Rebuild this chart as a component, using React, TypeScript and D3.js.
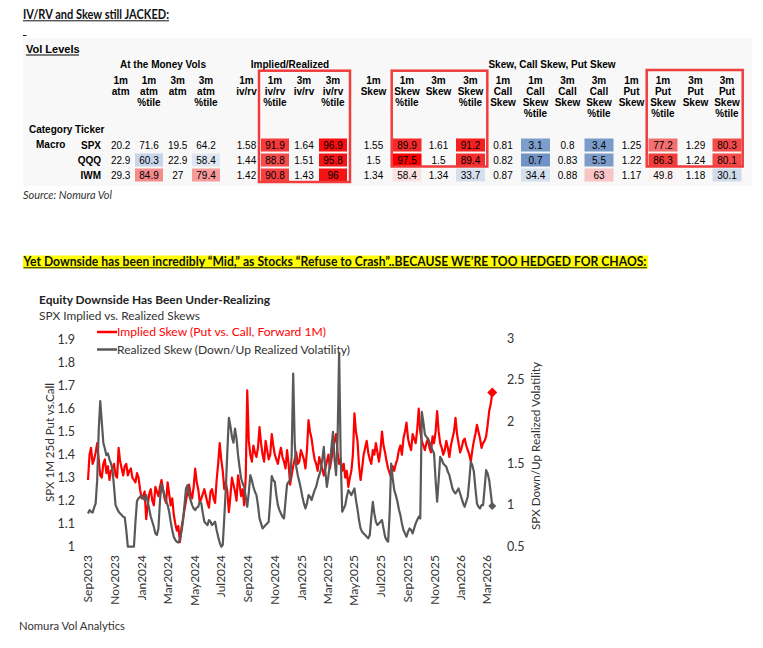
import React from "react";
import * as d3 from "d3";

// ---------------- Table data ----------------
const tickers = ["SPX", "QQQ", "IWM"];
const groupHeaders = ["At the Money Vols", "Implied/Realized", "Skew, Call Skew, Put Skew"];
const columnHeaders = [
  ["1m", "atm"], ["1m", "atm", "%tile"], ["3m", "atm"], ["3m", "atm", "%tile"],
  ["1m", "iv/rv"], ["1m", "iv/rv", "%tile"], ["3m", "iv/rv"], ["3m", "iv/rv", "%tile"],
  ["1m", "Skew"], ["1m", "Skew", "%tile"], ["3m", "Skew"], ["3m", "Skew", "%tile"],
  ["1m", "Call", "Skew"], ["1m", "Call", "Skew", "%tile"], ["3m", "Call", "Skew"], ["3m", "Call", "Skew", "%tile"],
  ["1m", "Put", "Skew"], ["1m", "Put", "Skew", "%tile"], ["3m", "Put", "Skew"], ["3m", "Put", "Skew", "%tile"],
];
const spxValues = [20.2, 71.6, 19.5, 64.2, 1.58, 91.9, 1.64, 96.9, 1.55, 89.9, 1.61, 91.2, 0.81, 3.1, 0.8, 3.4, 1.25, 77.2, 1.29, 80.3];
const qqqValues = [22.9, 60.3, 22.9, 58.4, 1.44, 88.8, 1.51, 95.8, 1.5, 97.5, 1.5, 89.4, 0.82, 0.7, 0.83, 5.5, 1.22, 86.3, 1.24, 80.1];
const iwmValues = [29.3, 84.9, 27, 79.4, 1.42, 90.8, 1.43, 96, 1.34, 58.4, 1.34, 33.7, 0.87, 34.4, 0.88, 63, 1.17, 49.8, 1.18, 30.1];
const tableRows = [spxValues, qqqValues, iwmValues];

// ---------------- Chart data (twice weekly, from Sep 2023) ----------------
const chartStart = new Date(2023, 8, 1);
const stepHours = 84;
const impliedSkew = [
  1.29, 1.40, 1.43, 1.36, 1.38, 1.41, 1.45, 1.38, 1.31, 1.30, 1.36, 1.38, 1.32, 1.35, 1.29, 1.33, 1.34, 1.36, 1.31, 1.30,
  1.43, 1.37, 1.34, 1.31, 1.35, 1.36, 1.31, 1.33, 1.34, 1.30, 1.29, 1.28, 1.32, 1.30, 1.25, 1.21, 1.22, 1.24, 1.12, 1.18,
  1.23, 1.25, 1.20, 1.18, 1.26, 1.24, 1.22, 1.26, 1.29, 1.25, 1.21, 1.19, 1.28, 1.23, 1.18, 1.21, 1.14, 1.10, 1.07, 1.09,
  1.02, 1.08, 1.12, 1.16, 1.20, 1.24, 1.27, 1.23, 1.21, 1.26, 1.34, 1.28, 1.25, 1.19, 1.21, 1.23, 1.25, 1.22, 1.19, 1.17,
  1.24, 1.25, 1.21, 1.19, 1.29, 1.36, 1.45, 1.38, 1.33, 1.25, 1.28, 1.24, 1.15, 1.22, 1.30, 1.27, 1.24, 1.20, 1.31, 1.27,
  1.22, 1.25, 1.18, 1.30, 1.68, 1.46, 1.40, 1.37, 1.44, 1.41, 1.39, 1.43, 1.52, 1.45, 1.40, 1.37, 1.46, 1.42, 1.38, 1.40,
  1.49, 1.44, 1.40, 1.38, 1.36, 1.40, 1.43, 1.39, 1.37, 1.34, 1.42, 1.36, 1.27, 1.31, 1.35, 1.38, 1.41, 1.36, 1.37, 1.42,
  1.40, 1.38, 1.34, 1.42, 1.55, 1.50, 1.47, 1.42, 1.38, 1.36, 1.33, 1.39, 1.36, 1.34, 1.31, 1.34, 1.37, 1.40, 1.34, 1.38,
  1.43, 1.46, 1.49, 1.41, 1.36, 1.38, 1.33, 1.36, 1.30, 1.33, 1.26, 1.30, 1.33, 1.40, 1.58, 1.50, 1.46, 1.35, 1.29, 1.34,
  1.40, 1.43, 1.46, 1.41, 1.38, 1.36, 1.42, 1.40, 1.45, 1.41, 1.37, 1.42, 1.50, 1.44, 1.41, 1.37, 1.34, 1.32, 1.30, 1.35,
  1.33, 1.36, 1.38, 1.42, 1.44, 1.40, 1.47, 1.50, 1.54, 1.47, 1.44, 1.42, 1.49, 1.47, 1.45, 1.51, 1.60, 1.50, 1.46, 1.44,
  1.42, 1.45, 1.47, 1.43, 1.41, 1.48, 1.45, 1.50, 1.59, 1.50, 1.45, 1.43, 1.40, 1.42, 1.46, 1.43, 1.39, 1.44, 1.47, 1.50,
  1.56, 1.49, 1.45, 1.41, 1.43, 1.46, 1.47, 1.44, 1.42, 1.40, 1.37, 1.42, 1.46, 1.49, 1.53, 1.50, 1.47, 1.43, 1.45, 1.46,
  1.48, 1.53, 1.59, 1.62, 1.67,
];
const realizedSkew = [
  0.90, 0.94, 0.92, 0.91, 0.97, 1.02, 1.30, 1.90, 2.25, 2.00, 1.75, 1.68, 1.60, 1.62, 1.55, 1.50, 1.42, 1.22, 1.00, 0.96,
  0.92, 0.90, 0.88, 0.86, 0.85, 0.70, 0.50, 0.50, 0.50, 0.50, 0.50, 0.80, 1.05, 1.08, 1.10, 1.12, 1.08, 1.06, 1.12, 1.04,
  0.95, 0.86, 0.80, 0.74, 0.66, 0.64, 0.72, 1.05, 1.25, 1.18, 1.12, 1.05, 1.00, 0.92, 0.80, 0.70, 0.62, 0.58, 0.56, 0.55,
  0.58, 0.68, 0.80, 1.00, 1.20, 1.24, 1.12, 1.06, 1.00, 0.96, 0.94, 0.97, 0.98, 1.04, 1.02, 0.90, 0.80, 0.78, 0.76, 0.82,
  0.80, 0.76, 0.78, 0.80, 0.70, 0.62, 0.55, 0.50, 0.52, 0.85, 1.20, 1.65, 2.05, 1.95, 1.82, 1.75, 1.92, 1.80, 1.60, 1.45,
  1.32, 1.26, 1.22, 1.10, 0.98, 1.15, 1.36, 1.30, 1.22, 1.16, 1.12, 1.00, 0.84, 0.78, 0.72, 0.74, 0.76, 0.78, 0.80, 1.05,
  1.35, 1.30, 1.28, 1.12, 1.00, 0.94, 0.90, 0.86, 0.84, 1.05, 1.25, 1.28, 1.30, 1.60, 2.58, 1.75, 1.46, 1.36, 1.28, 1.20,
  1.10, 1.02, 0.96, 1.02, 1.12, 1.10, 1.06, 1.12, 1.18, 1.22, 1.30, 1.36, 1.42, 1.55, 1.70, 1.40, 1.22, 1.35, 1.50, 1.70,
  1.88, 1.55, 1.36, 1.80, 2.83, 1.60, 0.92, 0.96, 1.00, 1.10, 1.18, 1.15, 1.12, 1.16, 1.20, 1.06, 0.95, 0.82, 0.72, 0.68,
  0.66, 0.64, 0.62, 0.60, 0.64, 0.85, 1.04, 0.90, 0.80, 0.76, 0.78, 0.80, 0.82, 0.72, 0.62, 0.58, 0.56, 0.90, 1.50, 1.32,
  1.18, 1.12, 1.05, 0.95, 0.88, 0.78, 0.70, 0.66, 0.62, 0.68, 0.72, 0.70, 0.66, 0.72, 0.78, 0.82, 0.86, 0.84, 2.12, 2.00,
  1.85, 1.82, 1.80, 1.76, 1.70, 1.66, 1.62, 1.30, 1.04, 1.30, 1.58, 1.55, 1.50, 1.48, 1.46, 1.40, 1.36, 1.28, 1.20, 1.16,
  1.14, 1.17, 1.20, 1.14, 1.08, 1.02, 0.98, 1.04, 1.10, 1.30, 1.52, 1.48, 1.40, 1.20, 1.02, 0.98, 0.96, 1.00, 1.00, 1.20,
  1.42, 1.38, 1.30, 1.15, 0.99,
];
const leftTicks = [1, 1.1, 1.2, 1.3, 1.4, 1.5, 1.6, 1.7, 1.8, 1.9];
const rightTicks = [0.5, 1, 1.5, 2, 2.5, 3];

// ---------------- Styles / layout ----------------
const colX = [120.7, 149, 177.7, 206, 246.5, 275, 304, 333, 373.5, 407, 438.5, 470.5, 503, 535.5, 567.5, 599, 631.5, 663, 695.5, 727];
const cellColors = [
  [null, null, null, null, null, "#f43a3a", null, "#f70f0f", null, "#f52a2a", null, "#f51f1f", null, "#7d9dca", null, "#7a9ac8", null, "#f47070", null, "#f44a4a"],
  [null, "#c6d5ea", null, "#dfe7f2", null, "#f34c4c", null, "#f41616", null, "#fb0000", null, "#f42e2e", null, "#7092c4", null, "#7d9cc9", null, "#f23d3d", null, "#f44b4b"],
  [null, "#f58b8b", null, "#f79b9b", null, "#f54040", null, "#f61313", null, "#fbe2e2", null, "#d5dfed", null, "#d5dfed", null, "#f9c4c4", null, "#fdf2f2", null, "#cfdaea"],
];
const ARIAL = "'Liberation Sans', Arial, sans-serif";
const CAL = "Lato, 'Open Sans', sans-serif";

export default function App() {
  const dates = impliedSkew.map((_, i) => d3.timeHour.offset(chartStart, stepHours * i));
  const x = d3.scaleTime().domain([new Date(2023, 8, 1), new Date(2026, 2, 1)]).range([88, 487]);
  const yL = d3.scaleLinear().domain([1, 1.9]).range([546.7, 339.7]);
  const yR = d3.scaleLinear().domain([0.5, 3]).range([546.7, 338.7]);
  const xTicks = x.ticks(d3.timeMonth.every(2));
  const fmt = d3.timeFormat("%b%Y");

  const lineL = d3.line<number>().x((_, i) => x(dates[i])).y((d) => yL(d));
  const lineR = d3.line<number>().x((_, i) => x(dates[i])).y((d) => yR(d));
  const n = dates.length - 1;
  const rx = x(dates[n]), ry = yL(impliedSkew[n]);
  const gx = x(dates[n]), gy = yR(realizedSkew[n]);

  const rowTop = [138.5, 153.5, 168.5];

  return (
    <svg width={763} height={648} style={{ position: "absolute", left: 0, top: 0, background: "#fff" }}>
      {/* Heading */}
      <text x={23} y={18.5} fontFamily={CAL} fontWeight="bold" fontSize={13} fill="#111" textLength={146} lengthAdjust="spacingAndGlyphs">IV/RV and Skew still JACKED:</text>
      <line x1={23} x2={169} y1={20.8} y2={20.8} stroke="#111" strokeWidth={1} />
      <line x1={23} x2={26.5} y1={35.5} y2={35.5} stroke="#111" strokeWidth={1} />

      {/* Table */}
      <rect x={23} y={38} width={729} height={148} fill="#f8f8f8" />
      <text x={26} y={53} fontFamily={ARIAL} fontWeight="bold" fontSize={11} fill="#000">Vol Levels</text>
      <line x1={26} x2={79} y1={55} y2={55} stroke="#000" strokeWidth={1} />
      {groupHeaders.map((g, i) => (
        <text key={g} x={[163, 290, 552][i]} y={67.5} textAnchor="middle" fontFamily={ARIAL} fontWeight="bold" fontSize={10} fill="#000">{g}</text>
      ))}
      {columnHeaders.map((lines, c) =>
        lines.map((t, k) => (
          <text key={c + "-" + k} x={colX[c]} y={84 + 11 * k} textAnchor="middle" fontFamily={ARIAL} fontWeight="bold" fontSize={10} fill="#000">{t}</text>
        ))
      )}
      <text x={29} y={133} fontFamily={ARIAL} fontWeight="bold" fontSize={10} fill="#000">Category Ticker</text>
      <text x={36} y={148} fontFamily={ARIAL} fontWeight="bold" fontSize={10} fill="#000">Macro</text>
      {tickers.map((t, r) => (
        <text key={t} x={101} y={rowTop[r] + 10} textAnchor="end" fontFamily={ARIAL} fontWeight="bold" fontSize={10} fill="#000">{t}</text>
      ))}
      {tableRows.map((row, r) =>
        row.map((v, c) => {
          const w = c < 8 ? 28 : 29;
          const col = cellColors[r][c];
          return (
            <g key={r + "-" + c}>
              {col && <rect x={colX[c] - w / 2} y={rowTop[r]} width={w} height={13} fill={col} />}
              <text x={colX[c]} y={rowTop[r] + 10} textAnchor="middle" fontFamily={ARIAL} fontSize={10} fill="#000">{String(v)}</text>
            </g>
          );
        })
      )}
      <rect x={259} y={70.7} width={91} height={111.3} fill="none" stroke="#f03c3c" strokeWidth={2.5} />
      <rect x={391.7} y={70.7} width={95.6} height={95.8} fill="none" stroke="#f03c3c" strokeWidth={2.5} />
      <rect x={646.7} y={70} width={96} height={96.5} fill="none" stroke="#f03c3c" strokeWidth={2.5} />
      <text x={23} y={199} fontFamily={CAL} fontStyle="italic" fontSize={11} fill="#333" textLength={89} lengthAdjust="spacingAndGlyphs">Source: Nomura Vol</text>

      {/* Yellow heading */}
      <rect x={23} y={255.5} width={625} height={13} fill="#ffff00" />
      <text x={23.5} y={266} fontFamily={CAL} fontWeight="bold" fontSize={12.5} fill="#111" textLength={623} lengthAdjust="spacingAndGlyphs">Yet Downside has been incredibly “Mid,” as Stocks “Refuse to Crash”..BECAUSE WE’RE TOO HEDGED FOR CHAOS:</text>
      <line x1={23.5} x2={647} y1={267.8} y2={267.8} stroke="#111" strokeWidth={1} />

      {/* Chart */}
      <text x={39} y={304} fontFamily={CAL} fontWeight="bold" fontSize={12} fill="#222" textLength={231} lengthAdjust="spacingAndGlyphs">Equity Downside Has Been Under-Realizing</text>
      <text x={39} y={319.5} fontFamily={CAL} fontSize={12} fill="#333" textLength={161} lengthAdjust="spacingAndGlyphs">SPX Implied vs. Realized Skews</text>

      <line x1={97} x2={117} y1={332} y2={332} stroke="#ff0000" strokeWidth={2.5} />
      <text x={117} y={336} fontFamily={CAL} fontSize={12} fill="#ff0000" textLength={209} lengthAdjust="spacingAndGlyphs">Implied Skew (Put vs. Call, Forward 1M)</text>
      <line x1={97} x2={117} y1={349.5} y2={349.5} stroke="#595959" strokeWidth={2.5} />
      <text x={117} y={353.5} fontFamily={CAL} fontSize={12} fill="#333" textLength={233} lengthAdjust="spacingAndGlyphs">Realized Skew (Down/Up Realized Volatility)</text>

      {leftTicks.map((t) => (
        <text key={t} x={75} y={yL(t) + 4} textAnchor="end" fontFamily={CAL} fontSize={12.5} fill="#333">{String(t)}</text>
      ))}
      {rightTicks.map((t) => (
        <text key={t} x={507} y={yR(t) + 4} textAnchor="start" fontFamily={CAL} fontSize={12.5} fill="#333">{String(t)}</text>
      ))}
      {xTicks.map((d) => (
        <text key={+d} transform={`translate(${x(d)},555) rotate(-90)`} dy="0.35em" textAnchor="end" fontFamily={CAL} fontSize={12} fill="#333">{fmt(d)}</text>
      ))}
      <text transform="translate(50,442.5) rotate(-90)" dy="0.35em" textAnchor="middle" fontFamily={CAL} fontSize={12} fill="#333" textLength={119} lengthAdjust="spacingAndGlyphs">SPX 1M 25d Put vs.Call</text>
      <text transform="translate(536,446) rotate(-90)" dy="0.35em" textAnchor="middle" fontFamily={CAL} fontSize={12} fill="#333" textLength={168} lengthAdjust="spacingAndGlyphs">SPX Down/Up Realized Volatility</text>

      <path d={lineL(impliedSkew) || ""} fill="none" stroke="#ff0000" strokeWidth={2.2} strokeLinejoin="round" />
      <path d={lineR(realizedSkew) || ""} fill="none" stroke="#595959" strokeWidth={2.2} strokeLinejoin="round" />
      <path d={`M${rx},${ry - 5}L${rx + 5},${ry}L${rx},${ry + 5}L${rx - 5},${ry}Z`} fill="#ff0000" />
      <path d={`M${gx},${gy - 4}L${gx + 4},${gy}L${gx},${gy + 4}L${gx - 4},${gy}Z`} fill="#595959" />

      <text x={19} y={630} fontFamily={CAL} fontSize={11} fill="#333" textLength={106} lengthAdjust="spacingAndGlyphs">Nomura Vol Analytics</text>
    </svg>
  );
}
